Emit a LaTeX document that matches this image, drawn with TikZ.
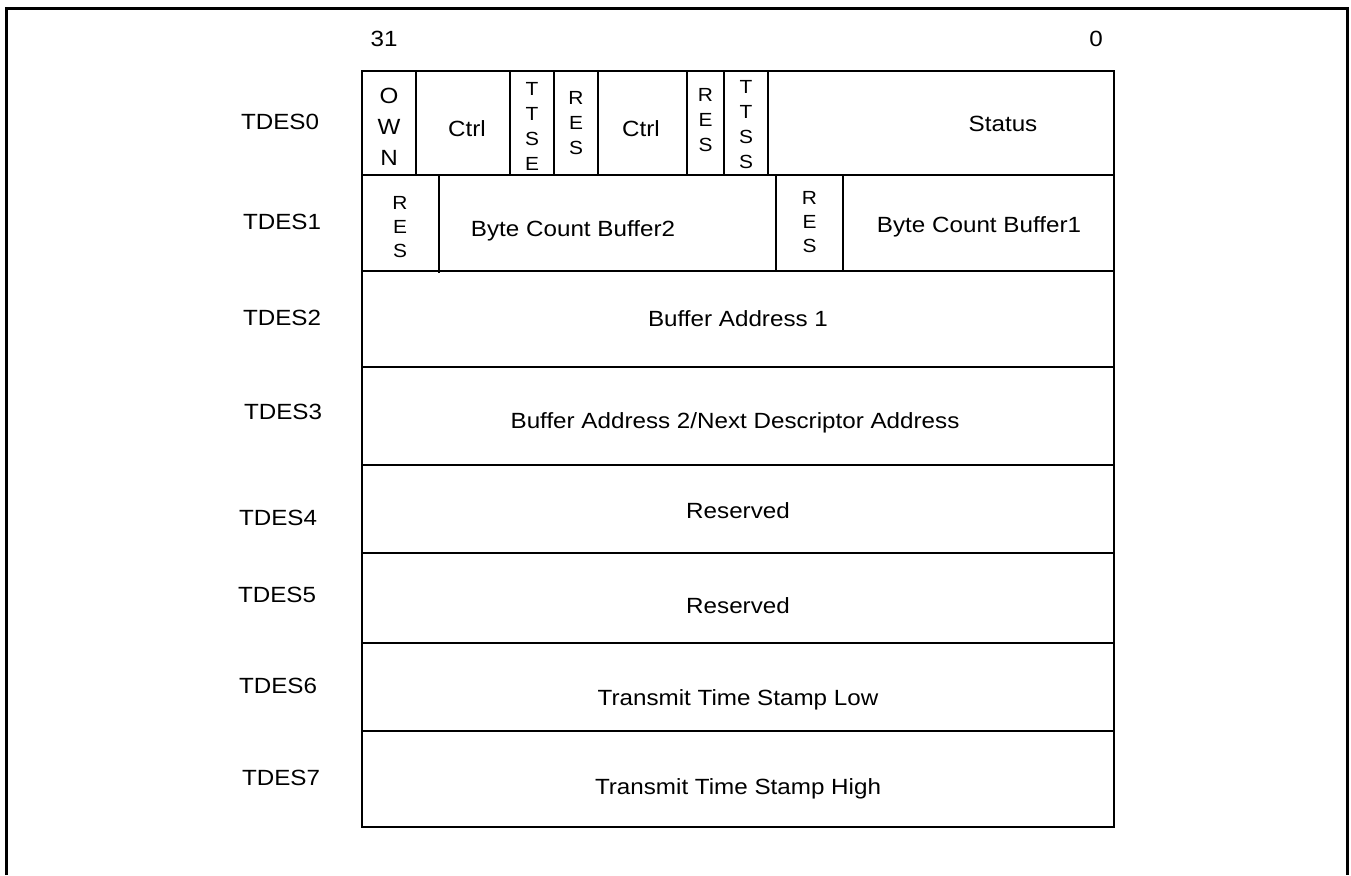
\documentclass[tikz,border=0pt]{standalone}
\usepackage{fontspec}
\setmainfont{Liberation Sans}[FakeStretch=1.1]
\begin{document}
\begin{tikzpicture}[x=1pt,y=-1pt,line width=1.2pt,
  txt/.style={inner sep=0pt,anchor=base,font=\fontsize{22}{26}\selectfont},
  own/.style={inner sep=0pt,align=center,font=\fontsize{22}{31}\selectfont},
  stk/.style={inner sep=0pt,align=center,font=\fontsize{19}{25}\selectfont},
  stkb/.style={inner sep=0pt,align=center,font=\fontsize{19}{24}\selectfont},
  frameline/.style={line width=3pt}]
\useasboundingbox (0,0) rectangle (1351,875);
% outer frame (open at bottom)
\draw[frameline] (6.5,875) -- (6.5,8.5) -- (1347,8.5) -- (1347,875);
% table
\draw (362,71) rectangle (1114,827);
\foreach \yy in {175,271,367,465,553,643,731}
  \draw (362,\yy) -- (1114,\yy);
\foreach \xx in {416,510,554,598,687,724,768}
  \draw (\xx,71) -- (\xx,175);
\draw (439,175) -- (439,273);
\draw (776,175) -- (776,271);
\draw (843,175) -- (843,271);
% bit numbers
\node[txt] (b31) at (384,47) {31};
\node[txt] (b0) at (1096,47) {0};
% row labels
\node[txt] (l0) at (280,129) {TDES0};
\node[txt] (l1) at (282,229) {TDES1};
\node[txt] (l2) at (282,325) {TDES2};
\node[txt] (l3) at (283,419) {TDES3};
\node[txt] (l4) at (278,525) {TDES4};
\node[txt] (l5) at (277,602) {TDES5};
\node[txt] (l6) at (278,693) {TDES6};
\node[txt] (l7) at (281,785) {TDES7};
% row 0
\node[own] (own) at (389,127) {O\\W\\N};
\node[txt] (ctrla) at (467,136) {Ctrl};
\node[stk] (ttse) at (532,126.5) {T\\T\\S\\E};
\node[stk] (resa) at (576,123) {R\\E\\S};
\node[txt] (ctrlb) at (641,136) {Ctrl};
\node[stk] (resb) at (705.5,120) {R\\E\\S};
\node[stk] (ttss) at (746,125) {T\\T\\S\\S};
\node[txt] (status) at (1003,131) {Status};
% row 1
\node[stkb] (resc) at (400,227) {R\\E\\S};
\node[txt] (bcb2) at (573,236) {Byte Count Buffer2};
\node[stkb] (resd) at (809.5,222) {R\\E\\S};
\node[txt] (bcb1) at (979,232) {Byte Count Buffer1};
% rows 2-7
\node[txt] (ba1) at (738,326) {Buffer Address 1};
\node[txt] (ba2) at (735,428) {Buffer Address 2/Next Descriptor Address};
\node[txt] (rsv4) at (738,518) {Reserved};
\node[txt] (rsv5) at (738,613) {Reserved};
\node[txt] (tsl) at (738,705) {Transmit Time Stamp Low};
\node[txt] (tsh) at (738,794) {Transmit Time Stamp High};
\end{tikzpicture}
\end{document}
